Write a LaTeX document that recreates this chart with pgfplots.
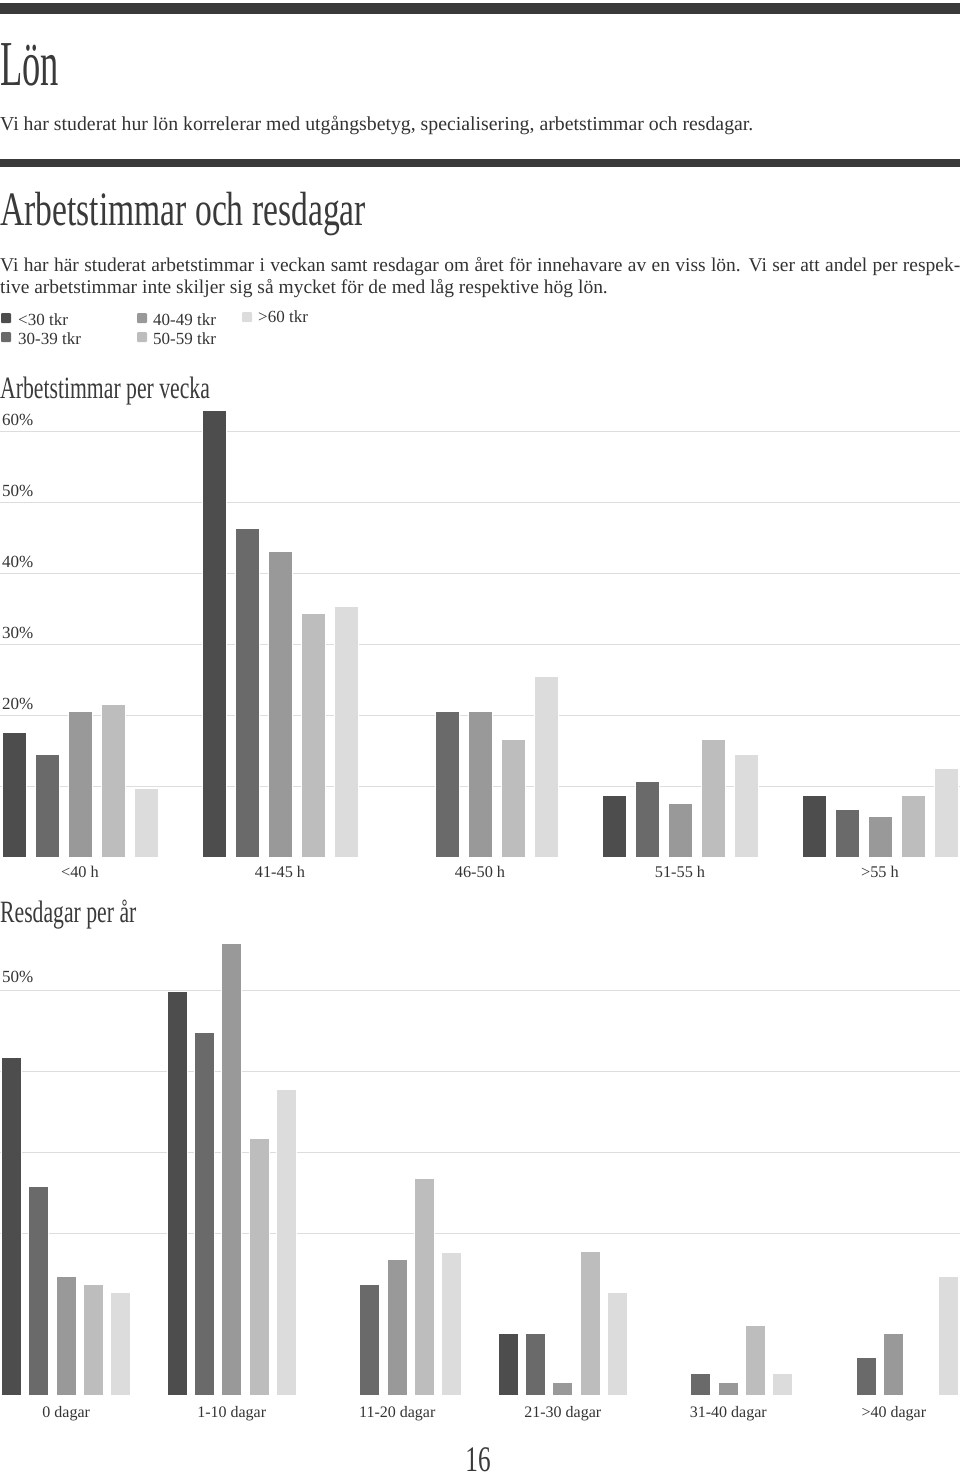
\documentclass[border=0pt]{standalone}
\usepackage{pgfplots}
\usepackage{pgfplotstable}
\pgfplotsset{compat=1.18}
\usepackage{fontspec}
\setmainfont{Liberation Serif}
\newfontfamily\headfont[FakeStretch=0.7]{Liberation Serif}
\newfontfamily\lonfont[FakeStretch=0.57]{Liberation Serif}
\definecolor{c1}{HTML}{4D4D4D}
\definecolor{c2}{HTML}{6A6A6A}
\definecolor{c3}{HTML}{999999}
\definecolor{c4}{HTML}{BDBDBD}
\definecolor{c5}{HTML}{DCDCDC}
\definecolor{txt}{HTML}{333333}
\definecolor{gridc}{HTML}{DDDDDD}
\definecolor{rulec}{HTML}{3A3A3A}

\pgfplotstableread{
x a b c d e
0 17.5 14.5 20.5 21.5 9.7
1 62.9 46.2 43.1 34.3 35.3
2 0 20.5 20.5 16.5 25.4
3 8.6 10.6 7.6 16.5 14.5
4 8.6 6.7 5.7 8.6 12.5
}\hours

\pgfplotstableread{
x a b c d e
0 41.7 25.7 14.6 13.6 12.6
1 49.8 44.7 55.8 31.7 37.7
2 0 13.7 16.7 26.7 17.6
3 7.6 7.6 1.6 17.7 12.6
4 0 2.6 1.6 8.6 2.6
5 0 4.6 7.6 0 14.6
}\days

\begin{document}
\begin{tikzpicture}
\useasboundingbox (0,0) rectangle (960pt,-1476pt);
% rules
\fill[rulec] (0,-3pt) rectangle (960pt,-14pt);
\fill[rulec] (0,-159pt) rectangle (960pt,-167pt);
% titles
\node[anchor=base west, inner sep=0pt, text=rulec, font=\lonfont\fontsize{64}{70}\selectfont] at (0pt,-85pt) {Lön};
\node[anchor=base west, inner sep=0pt, text=txt, font=\fontsize{19.8}{23}\selectfont] at (0pt,-130pt) {Vi har studerat hur lön korrelerar med utgångsbetyg, specialisering, arbetstimmar och resdagar.};
\node[anchor=base west, inner sep=0pt, text=rulec, font=\headfont\fontsize{48}{54}\selectfont] at (0pt,-225pt) {Arbetstimmar och resdagar};
\node[anchor=base west, inner sep=0pt, text=txt, font=\fontsize{19.5}{23}\selectfont] at (0pt,-271.5pt) {\makebox[960pt][s]{Vi har här studerat arbetstimmar i veckan samt resdagar om året för innehavare av en viss lön. Vi ser att andel per respek-}};
\node[anchor=base west, inner sep=0pt, text=txt, font=\fontsize{19.5}{23}\selectfont] at (0pt,-293.5pt) {tive arbetstimmar inte skiljer sig så mycket för de med låg respektive hög lön.};
% legend
\fill[c1, rounded corners=1pt] (1pt,-313pt) rectangle (11pt,-323pt);
\node[anchor=base west, inner sep=0pt, text=txt, font=\fontsize{17}{20}\selectfont] at (18pt,-325pt) {<30 tkr};
\fill[c2, rounded corners=1pt] (1pt,-332pt) rectangle (11pt,-342pt);
\node[anchor=base west, inner sep=0pt, text=txt, font=\fontsize{17}{20}\selectfont] at (18pt,-344.3pt) {30-39 tkr};
\fill[c3, rounded corners=1pt] (137pt,-313pt) rectangle (147pt,-323pt);
\node[anchor=base west, inner sep=0pt, text=txt, font=\fontsize{17}{20}\selectfont] at (153pt,-325pt) {40-49 tkr};
\fill[c4, rounded corners=1pt] (137pt,-332pt) rectangle (147pt,-342pt);
\node[anchor=base west, inner sep=0pt, text=txt, font=\fontsize{17}{20}\selectfont] at (153pt,-344.3pt) {50-59 tkr};
\fill[c5, rounded corners=1pt] (242pt,-312pt) rectangle (252pt,-322pt);
\node[anchor=base west, inner sep=0pt, text=txt, font=\fontsize{17}{20}\selectfont] at (258pt,-322.7pt) {>60 tkr};
% chart headings
\node[anchor=base west, inner sep=0pt, text=rulec, font=\headfont\fontsize{31}{35}\selectfont] at (0pt,-398pt) {Arbetstimmar per vecka};
\node[anchor=base west, inner sep=0pt, text=rulec, font=\headfont\fontsize{31}{35}\selectfont] at (0pt,-922.7pt) {Resdagar per år};
\node[anchor=base, inner sep=0pt, text=rulec, font=\headfont\fontsize{36}{40}\selectfont] at (478pt,-1471pt) {16};

% chart 1
\begin{axis}[
  at={(0pt,-857pt)}, anchor=south west,
  width=960pt, height=447.3pt, scale only axis,
  xmin=-0.4, xmax=4.4, ymin=0, ymax=63,
  clip=false,
  ybar, bar width=24pt,
  axis line style={draw=none}, major tick length=0pt,
  ymajorgrids, grid style={gridc, line width=1pt},
  ytick={10,20,30,40,50,60},
  yticklabels={,20\%,30\%,40\%,50\%,60\%},
  yticklabel style={anchor=base west, inner sep=0pt, xshift=2pt, yshift=6pt, text=txt, font=\fontsize{17}{20}\selectfont},
  xtick={0,1,2,3,4},
  xticklabels={<40 h,41-45 h,46-50 h,51-55 h,>55 h},
  xticklabel style={anchor=base, inner sep=0pt, yshift=-20pt, text=txt, font=\fontsize{16.3}{19}\selectfont},
  every axis plot/.append style={draw=white, line width=1pt},
]
\addplot[fill=c1, draw=white, bar shift=-66pt] table[x=x,y=a]{\hours};
\addplot[fill=c2, draw=white, bar shift=-33pt] table[x=x,y=b]{\hours};
\addplot[fill=c3, draw=white, bar shift=0pt] table[x=x,y=c]{\hours};
\addplot[fill=c4, draw=white, bar shift=33pt] table[x=x,y=d]{\hours};
\addplot[fill=c5, draw=white, bar shift=66pt] table[x=x,y=e]{\hours};
\end{axis}

% chart 2
\begin{axis}[
  at={(0pt,-1395pt)}, anchor=south west,
  width=960pt, height=453.6pt, scale only axis,
  xmin=-0.4, xmax=5.4, ymin=0, ymax=56,
  clip=false,
  ybar, bar width=20pt,
  axis line style={draw=none}, major tick length=0pt,
  ymajorgrids, grid style={gridc, line width=1pt},
  ytick={20,30,40,50},
  yticklabels={,,,50\%},
  yticklabel style={anchor=base west, inner sep=0pt, xshift=2pt, yshift=7.5pt, text=txt, font=\fontsize{17}{20}\selectfont},
  xtick={0,1,2,3,4,5},
  xticklabels={0 dagar,1-10 dagar,11-20 dagar,21-30 dagar,31-40 dagar,>40 dagar},
  xticklabel style={anchor=base, inner sep=0pt, yshift=-22pt, text=txt, font=\fontsize{16}{19}\selectfont},
  every axis plot/.append style={draw=white, line width=1pt},
]
\addplot[fill=c1, draw=white, bar shift=-54.6pt] table[x=x,y=a]{\days};
\addplot[fill=c2, draw=white, bar shift=-27.3pt] table[x=x,y=b]{\days};
\addplot[fill=c3, draw=white, bar shift=0pt] table[x=x,y=c]{\days};
\addplot[fill=c4, draw=white, bar shift=27.3pt] table[x=x,y=d]{\days};
\addplot[fill=c5, draw=white, bar shift=54.6pt] table[x=x,y=e]{\days};
\end{axis}
\end{tikzpicture}
\end{document}
